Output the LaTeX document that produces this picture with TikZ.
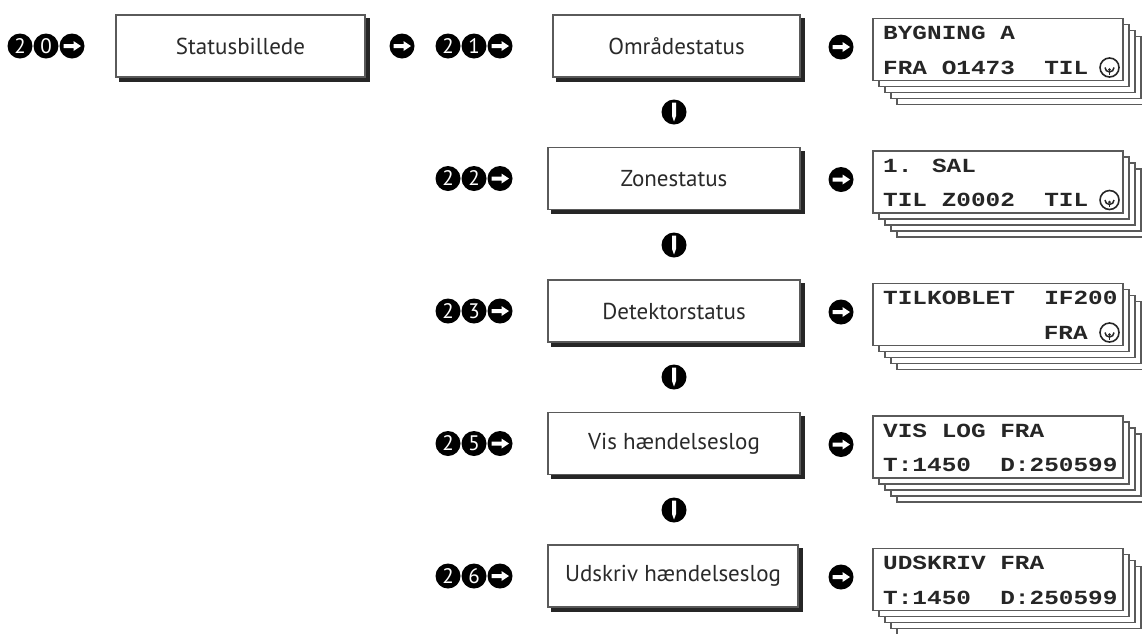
\documentclass[tikz,border=0pt]{standalone}
\usepackage{fontspec}
\setmainfont{PT Sans}
\newfontfamily\lcdfont[FakeStretch=1.22]{Liberation Mono}
\definecolor{frame}{HTML}{5A5A5A}
\definecolor{ink}{HTML}{2A2A2A}
\begin{document}
\begin{tikzpicture}[x=1pt,y=-1pt,
  keydot/.style={circle,fill=black,minimum size=25pt,inner sep=0pt,text=white,
    font=\fontsize{21}{21}\selectfont},
  rightkey/.style={keydot,path picture={\fill[white,shift={(path picture bounding box.center)}]
    (-8.5,-2) -- (1.5,-2) -- (1.5,-5) -- (9,0) -- (1.5,5) -- (1.5,2) -- (-8.5,2) -- cycle;}},
  downkey/.style={keydot,path picture={\fill[white,shift={(path picture bounding box.center)}]
    (-2,-9.5) -- (2,-9.5) -- (2,4) -- (0,9.5) -- (-2,4) -- cycle;}},
  menubox/.style={draw=frame,line width=1.3pt,fill=white,minimum height=62pt,inner sep=0pt,
    text=ink,font=\fontsize{23}{23}\selectfont,
    preaction={fill=black!85,draw=black!85,line width=1.3pt,transform canvas={xshift=4pt,yshift=-4pt}}},
  lcdframe/.style={draw=frame,line width=1.1pt,fill=white},
  lcdtext/.style={inner sep=0pt,text=black!85,font=\lcdfont\bfseries\fontsize{20}{20}\selectfont},
  lockicon/.style={circle,draw=black!85,line width=1.6pt,minimum size=19pt,inner sep=0pt,
    path picture={\begin{scope}[shift={(path picture bounding box.center)}]
      \draw[black!85,line width=1.5pt] (-4.5,0) arc[start angle=180,end angle=0,radius=4.5];
      \fill[black!85] (0,2.2) circle (1.5pt);
      \draw[black!85,line width=1.4pt] (0,4) -- (0,7);
    \end{scope}}}
]
\useasboundingbox (0,0) rectangle (1142,633);
\clip (0,0) rectangle (1142,633);

\newcommand\lcdstack[5]{%
  \foreach \k in {4,3,2,1}{\draw[lcdframe] (873+6*\k,#2-31+6*\k) rectangle (1123+6*\k,#2+31+6*\k);}
  \node[lcdframe,minimum width=250pt,minimum height=62pt,inner sep=0pt] (#1) at (998,#2) {};
  \node[lcdtext,anchor=base west] (#1-a) at (883,#2-10) {#3};
  \node[lcdtext,anchor=base west] (#1-b) at (883+14.6*#5,#2+24.5) {#4};
}

% Row 1
\node[keydot] (k20a) at (20,46) {2};
\node[keydot] (k20b) at (46,46) {0};
\node[rightkey] (k20c) at (72,46) {};
\node[menubox,minimum width=249pt] (b20) at (240.5,46) {Statusbillede};
\node[rightkey] (k20d) at (402,46) {};
\node[keydot] (k21a) at (448,46) {2};
\node[keydot] (k21b) at (474,46) {1};
\node[rightkey] (k21c) at (500,46) {};
\node[menubox,minimum width=247pt] (b21) at (676.5,46) {Områdestatus};
\node[rightkey] (k21d) at (841,47) {};
\lcdstack{d21}{49.5}{BYGNING A}{FRA O1473~~TIL}{0}
\node[lockicon] (d21-i) at (1109.5,67.5) {};

\node[downkey] (v1) at (674,112) {};

% Row 2
\node[keydot] (k22a) at (448,178.5) {2};
\node[keydot] (k22b) at (474,178.5) {2};
\node[rightkey] (k22c) at (500,178.5) {};
\node[menubox,minimum width=252pt] (b22) at (674,178.5) {Zonestatus};
\node[rightkey] (k22d) at (841,179.5) {};
\lcdstack{d22}{182}{1. SAL}{TIL Z0002~~TIL}{0}
\node[lockicon] (d22-i) at (1109.5,200) {};

\node[downkey] (v2) at (674,245) {};

% Row 3
\node[keydot] (k23a) at (448,311) {2};
\node[keydot] (k23b) at (474,311) {3};
\node[rightkey] (k23c) at (500,311) {};
\node[menubox,minimum width=252pt] (b23) at (674,311) {Detektorstatus};
\node[rightkey] (k23d) at (841,312) {};
\lcdstack{d23}{314.5}{TILKOBLET~~IF200}{FRA}{11}
\node[lockicon] (d23-i) at (1109.5,332.5) {};

\node[downkey] (v3) at (674,377) {};

% Row 4
\node[keydot] (k25a) at (448,443.5) {2};
\node[keydot] (k25b) at (474,443.5) {5};
\node[rightkey] (k25c) at (500,443.5) {};
\node[menubox,minimum width=252pt] (b25) at (674,443.5) {Vis hændelseslog};
\node[rightkey] (k25d) at (841,444.5) {};
\lcdstack{d25}{447}{VIS LOG FRA}{T:1450~~D:250599}{0}

\node[downkey] (v4) at (674,510) {};

% Row 5
\node[keydot] (k26a) at (448,576) {2};
\node[keydot] (k26b) at (474,576) {6};
\node[rightkey] (k26c) at (500,576) {};
\node[menubox,minimum width=250pt] (b26) at (673,576) {Udskriv hændelseslog};
\node[rightkey] (k26d) at (841,577) {};
\lcdstack{d26}{579.5}{UDSKRIV FRA}{T:1450~~D:250599}{0}
\end{tikzpicture}
\end{document}
